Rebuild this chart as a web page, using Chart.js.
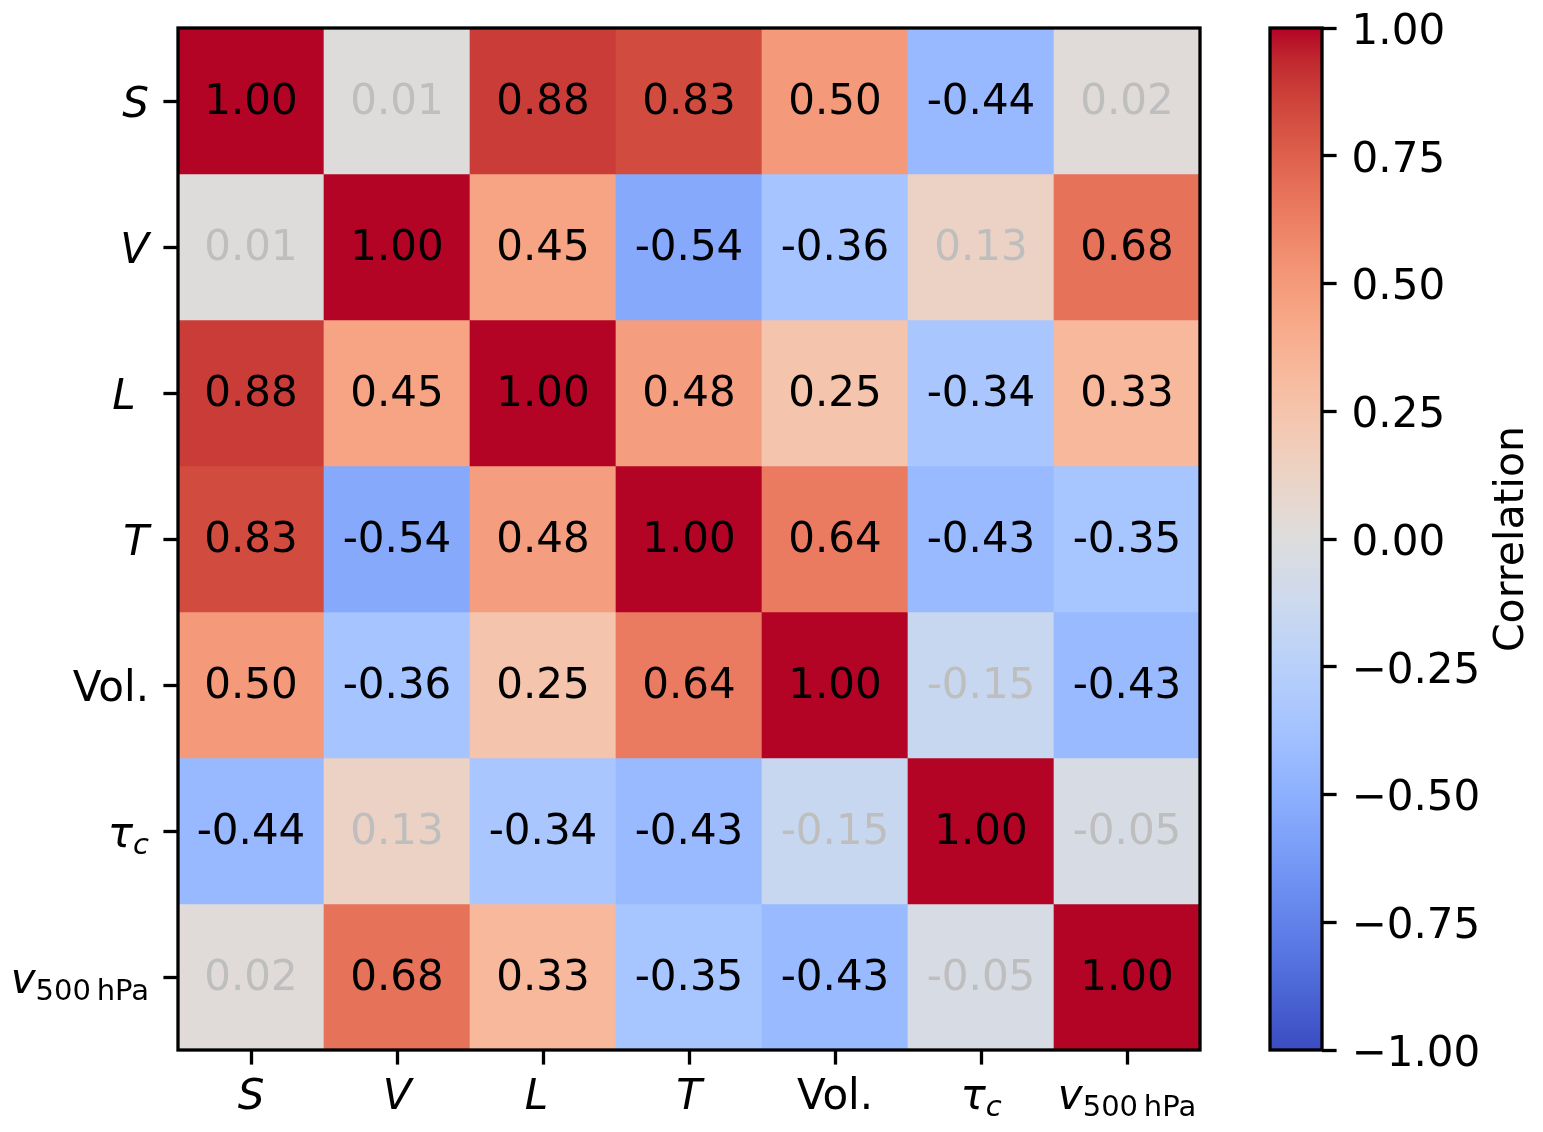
<!DOCTYPE html>
<html lang="en">
  <head>
    <meta charset="UTF-8" />
    <title>Correlation matrix</title>
    <script src="https://cdn.jsdelivr.net/npm/chart.js@4.4.0/dist/chart.umd.min.js"></script>
    <style>
      body { margin: 0; background: #fff; }
      #wrap { position: relative; width: 1543px; height: 1132px; }
      canvas { position: absolute; top: 0; }
      #heat { left: 0; }
      #bar { left: 1240px; }
    </style>
  </head>
  <body>
    <div id="wrap">
      <canvas id="heat" width="1240" height="1132"></canvas>
      <canvas id="bar" width="303" height="1132"></canvas>
    </div>
    <script>
      // variables, in the order of rows and columns
      var variables = ['S', 'V', 'L', 'T', 'Vol.', 'τc', 'v500 hPa'];

      // one row of the correlation matrix per variable
      var corrS = [1.0, 0.01, 0.88, 0.83, 0.5, -0.44, 0.02];
      var corrV = [0.01, 1.0, 0.45, -0.54, -0.36, 0.13, 0.68];
      var corrL = [0.88, 0.45, 1.0, 0.48, 0.25, -0.34, 0.33];
      var corrT = [0.83, -0.54, 0.48, 1.0, 0.64, -0.43, -0.35];
      var corrVol = [0.5, -0.36, 0.25, 0.64, 1.0, -0.15, -0.43];
      var corrTau = [-0.44, 0.13, -0.34, -0.43, -0.15, 1.0, -0.05];
      var corrV500 = [0.02, 0.68, 0.33, -0.35, -0.43, -0.05, 1.0];
      var rows = [corrS, corrV, corrL, corrT, corrVol, corrTau, corrV500];

      var cbMin = -1;
      var cbMax = 1;
      var cbStep = 0.25;

      // how the tick labels are typeset: i = italic, s = subscript
      // (the L label carries a trailing space, as in the original)
      var labelParts = [
        [['S', 'i']],
        [['V', 'i']],
        [['L', 'i'], [' ', '']],
        [['T', 'i']],
        [['Vol.', '']],
        [['τ', 'i'], ['c', 'is']],
        [['v', 'i'], ['500\u2009hPa', 's']]
      ];

      var FONT = "'DejaVu Sans'";

      // matplotlib coolwarm (Moreland), 33 stops
      var coolwarmStops = [
        [59, 76, 192], [68, 90, 204], [77, 104, 215], [87, 117, 225],
        [98, 130, 234], [108, 142, 241], [119, 154, 247], [130, 165, 251],
        [141, 176, 254], [152, 185, 255], [163, 194, 255], [174, 201, 253],
        [184, 208, 249], [194, 213, 244], [204, 217, 238], [213, 219, 230],
        [221, 221, 221], [229, 216, 209], [236, 211, 197], [241, 204, 184],
        [245, 196, 172], [247, 187, 159], [247, 177, 147], [247, 166, 134],
        [244, 154, 123], [241, 141, 111], [236, 127, 99], [229, 112, 88],
        [222, 96, 77], [213, 80, 66], [203, 62, 56], [192, 40, 47],
        [180, 4, 38]
      ];

      function coolwarm(v) {
        var t = Math.min(1, Math.max(0, (v - cbMin) / (cbMax - cbMin)));
        var f = t * (coolwarmStops.length - 1);
        var i = Math.min(coolwarmStops.length - 2, Math.floor(f));
        var k = f - i;
        var a = coolwarmStops[i], b = coolwarmStops[i + 1];
        var c = a.map((x, j) => Math.round(x + (b[j] - x) * k));
        return 'rgb(' + c.join(',') + ')';
      }

      function partFont(style) {
        return (style.indexOf('i') >= 0 ? 'italic ' : '') +
          (style.indexOf('s') >= 0 ? '29px ' : '42px ') + FONT;
      }

      function drawRich(ctx, parts, x, y, align) {
        var widths = parts.map((p) => {
          ctx.font = partFont(p[1]);
          return ctx.measureText(p[0]).width;
        });
        var total = widths.reduce((a, b) => a + b, 0);
        var cx = align === 'right' ? x - total : x - total / 2;
        ctx.textAlign = 'left';
        ctx.textBaseline = 'alphabetic';
        parts.forEach((p, i) => {
          ctx.font = partFont(p[1]);
          ctx.fillText(p[0], cx, y + (p[1].indexOf('s') >= 0 ? 7 : 0));
          cx += widths[i];
        });
      }

      var heatPlugin = {
        id: 'heatText',
        afterDatasetsDraw(chart) {
          var ctx = chart.ctx;
          ctx.save();
          ctx.font = '42px ' + FONT;
          ctx.textAlign = 'center';
          ctx.textBaseline = 'alphabetic';
          chart.data.datasets.forEach((ds, r) => {
            chart.getDatasetMeta(r).data.forEach((bar, c) => {
              var v = rows[r][c];
              ctx.fillStyle = Math.abs(v) < 0.2 ? '#bebebe' : '#000';
              ctx.fillText(v.toFixed(2), bar.x, (bar.y + bar.base) / 2 + 13);
            });
          });

          var a = chart.chartArea;
          ctx.lineWidth = 3.3;
          ctx.strokeStyle = '#000';
          ctx.strokeRect(a.left, a.top, a.right - a.left, a.bottom - a.top);

          var xs = chart.scales.x;
          var ys = chart.scales.y;
          ctx.fillStyle = '#000';
          variables.forEach((name, i) => {
            drawRich(ctx, labelParts[i], xs.getPixelForTick(i), xs.top + 59, 'center');
            drawRich(ctx, labelParts[i], ys.right - 29, ys.getPixelForTick(i) + 16, 'right');
          });
          ctx.restore();
        }
      };

      var tickGrid = {
        offset: false,
        drawOnChartArea: false,
        tickLength: 14.6,
        tickWidth: 3.3,
        tickColor: '#000'
      };

      new Chart(document.getElementById('heat'), {
        type: 'bar',
        data: {
          labels: variables,
          datasets: rows.map((row, r) => ({
            label: variables[r],
            data: row.map(() => [r, r + 1]),
            backgroundColor: row.map(coolwarm),
            grouped: false,
            barPercentage: 1,
            categoryPercentage: 1,
            borderWidth: 0
          }))
        },
        options: {
          responsive: false,
          animation: false,
          events: [],
          layout: { padding: { top: 28, right: 40, left: 0, bottom: 0 } },
          plugins: { legend: { display: false }, tooltip: { enabled: false } },
          scales: {
            x: {
              offset: true,
              grid: tickGrid,
              border: { display: false },
              ticks: { display: false },
              afterFit: (s) => { s.height = 82; }
            },
            y: {
              min: 0,
              max: variables.length,
              reverse: true,
              afterBuildTicks: (s) => {
                s.ticks = variables.map((_, i) => ({ value: i + 0.5 }));
              },
              grid: tickGrid,
              border: { display: false },
              ticks: { display: false },
              afterFit: (s) => { s.width = 178; }
            }
          }
        },
        plugins: [heatPlugin]
      });

      function cbGradient(chart) {
        var a = chart.chartArea;
        if (!a) return null;
        var g = chart.ctx.createLinearGradient(0, a.bottom, 0, a.top);
        coolwarmStops.forEach((c, i) => {
          g.addColorStop(i / (coolwarmStops.length - 1), 'rgb(' + c.join(',') + ')');
        });
        return g;
      }

      var cbPlugin = {
        id: 'cbFrame',
        afterDraw(chart) {
          var ctx = chart.ctx;
          var a = chart.chartArea;
          ctx.save();
          ctx.lineWidth = 3.3;
          ctx.strokeStyle = '#000';
          ctx.strokeRect(a.left, a.top, a.right - a.left, a.bottom - a.top);
          ctx.translate(a.right + 190, (a.top + a.bottom) / 2);
          ctx.rotate(-Math.PI / 2);
          ctx.font = '41px ' + FONT;
          ctx.fillStyle = '#000';
          ctx.textAlign = 'center';
          ctx.textBaseline = 'middle';
          ctx.fillText('Correlation', 0, 0);
          ctx.restore();
        }
      };

      new Chart(document.getElementById('bar'), {
        type: 'bar',
        data: {
          labels: ['Correlation'],
          datasets: [{
            data: [[cbMin, cbMax]],
            backgroundColor: (c) => cbGradient(c.chart),
            barPercentage: 1,
            categoryPercentage: 1,
            borderWidth: 0
          }]
        },
        options: {
          responsive: false,
          animation: false,
          events: [],
          layout: { padding: { left: 30, top: 28, bottom: 82, right: 0 } },
          plugins: { legend: { display: false }, tooltip: { enabled: false } },
          scales: {
            x: { display: false },
            y: {
              position: 'right',
              min: cbMin,
              max: cbMax,
              ticks: {
                stepSize: cbStep,
                padding: 15,
                labelOffset: 5,
                color: '#000',
                font: { family: 'DejaVu Sans', size: 42 },
                callback: (v) => (v < 0 ? '\u2212' : '') + Math.abs(v).toFixed(2)
              },
              grid: {
                drawOnChartArea: false,
                tickLength: 14.6,
                tickWidth: 3.3,
                tickColor: '#000'
              },
              border: { display: false },
              afterFit: (s) => {
                s.width = 221;
                s.paddingTop = 0;
                s.paddingBottom = 0;
              }
            }
          }
        },
        plugins: [cbPlugin]
      });
    </script>
  </body>
</html>
